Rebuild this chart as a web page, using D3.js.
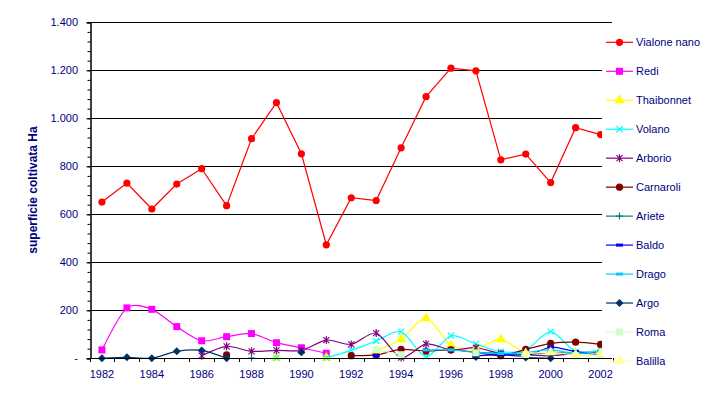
<!DOCTYPE html>
<html>
<head>
<meta charset="utf-8">
<script src="https://cdn.jsdelivr.net/npm/d3@7"></script>
<style>
  body { margin: 0; background: #fff; }
  svg { display: block; font-family: "Liberation Sans", Arial, sans-serif; }
</style>
</head>
<body>
<div class="render"></div>
<script>
// years on the category axis
var years = [1982, 1983, 1984, 1985, 1986, 1987, 1988, 1989, 1990, 1991, 1992,
             1993, 1994, 1995, 1996, 1997, 1998, 1999, 2000, 2001, 2002];
var yearLabels = [1982, 1984, 1986, 1988, 1990, 1992, 1994, 1996, 1998, 2000, 2002];
var yTicks = [0, 200, 400, 600, 800, 1000, 1200, 1400];

// hectares per variety (null = no value that year)
var vialoneNano = [651, 730, 622, 726, 790, 636, 915, 1065, 852, 473, 669, 657, 877, 1090, 1209, 1198, 827, 851, 732, 961, 932];
var redi        = [35, 210, 204, 132, 73, 90, 103, 65, 44, 21, null, null, null, null, null, null, null, null, null, null, null];
var thaibonnet  = [null, null, null, null, null, null, null, 2, null, 2, null, 30, 79, 167, 55, 42, 79, 21, 28, 22, 32];
var volano      = [null, null, null, null, null, null, null, 2, null, 2, 33, 72, 111, 7, 94, 60, 28, 35, 111, 28, 35];
var arborio     = [null, null, null, null, 11, 50, 29, 33, 33, 76, 58, 105, 3, 60, 35, 44, 20, 15, 10, 20, 15];
var carnaroli   = [null, null, null, null, null, 14, null, null, null, null, 11, 14, 37, 30, 35, 25, 11, 37, 62, 67, 58];
var ariete      = [null, null, null, null, null, null, 1, null, null, null, null, null, null, null, null, 25, 20, 15, 25, 20, 25];
var baldo       = [null, null, null, null, null, null, null, null, null, null, null, 11, null, null, null, 10, 15, 10, 46, 28, 22];
var drago       = [null, null, null, null, null, null, null, null, null, null, null, null, null, 35, 35, 25, 20, 25, 35, 20, 30];
var argo        = [0, 4, 0, 29, 33, 0, null, null, 25, null, null, null, null, null, null, 5, null, 3, 0, null, null];
var roma        = [null, null, null, null, null, null, null, null, null, null, null, 35, 15, null, null, 23, null, 14, null, 10, 10];
var balilla     = [null, null, null, null, null, null, null, null, null, null, null, null, null, null, null, null, null, 20, 25, 15, 20];

var series = [
    {name: 'Vialone nano', values: vialoneNano, color: '#FF0000', marker: 'circle', smooth: false},
    {name: 'Redi',         values: redi,        color: '#FF00FF', marker: 'square', smooth: true},
    {name: 'Thaibonnet',   values: thaibonnet,  color: '#FFFF00', marker: 'triangle', smooth: true},
    {name: 'Volano',       values: volano,      color: '#00FFFF', marker: 'x', smooth: true},
    {name: 'Arborio',      values: arborio,     color: '#800080', marker: 'star', smooth: true},
    {name: 'Carnaroli',    values: carnaroli,   color: '#800000', marker: 'circle', smooth: true},
    {name: 'Ariete',       values: ariete,      color: '#008080', marker: 'plus', smooth: true},
    {name: 'Baldo',        values: baldo,       color: '#0000FF', marker: 'dash', smooth: true},
    {name: 'Drago',        values: drago,       color: '#00CCFF', marker: 'dash', smooth: true},
    {name: 'Argo',         values: argo,        color: '#003366', marker: 'diamond', smooth: true},
    {name: 'Roma',         values: roma,        color: '#CCFFCC', marker: 'square', smooth: true},
    {name: 'Balilla',      values: balilla,     color: '#FFFF99', marker: 'triangle', smooth: true}
];

var width = 706, height = 394;
var navy = '#000080';
var numFmt = d3.formatLocale({decimal: ',', thousands: '.', grouping: [3], currency: ['', '']}).format(',');

var svg = d3.select('.render').append('svg')
    .attr('width', width).attr('height', height);

var x = d3.scaleBand().domain(years).range([89.5, 613]);
var y = d3.scaleLinear().domain([0, 1400]).range([358.3, 22.3]);
var cx = function(yr) { return x(yr) + x.bandwidth() / 2; };

// gridlines
svg.append('g').selectAll('line')
    .data(yTicks.filter(function(d) { return d > 0; }))
    .enter().append('line')
    .attr('x1', 90).attr('x2', 612)
    .attr('y1', function(d) { return Math.round(y(d)) + 0.5; })
    .attr('y2', function(d) { return Math.round(y(d)) + 0.5; })
    .attr('stroke', '#000').attr('stroke-width', 1);

// lines
series.forEach(function(s) {
    var pts = years.map(function(yr, i) { return {year: yr, v: s.values[i]}; });
    var line = d3.line()
        .defined(function(d) { return d.v != null; })
        .x(function(d) { return cx(d.year); })
        .y(function(d) { return y(d.v); })
        .curve(s.smooth ? d3.curveCardinal.tension(0.2) : d3.curveLinear);
    svg.append('path')
        .datum(pts)
        .attr('d', line)
        .attr('fill', 'none')
        .attr('stroke', s.color)
        .attr('stroke-width', 1.2);
});

function drawMarker(g, kind, color) {
    if (kind == 'circle') {
        g.append('circle').attr('r', 3.6).attr('fill', color);
    } else if (kind == 'square') {
        g.append('rect').attr('x', -3.5).attr('y', -3.5).attr('width', 7).attr('height', 7).attr('fill', color);
    } else if (kind == 'triangle') {
        g.append('path').attr('d', d3.symbol().type(d3.symbolTriangle).size(45)).attr('fill', color);
    } else if (kind == 'diamond') {
        g.append('path').attr('d', 'M0,-4L4,0L0,4L-4,0Z').attr('fill', color);
    } else if (kind == 'x') {
        g.append('path').attr('d', 'M-3,-3L3,3M-3,3L3,-3').attr('stroke', color).attr('stroke-width', 1.2);
    } else if (kind == 'star') {
        g.append('path').attr('d', 'M-3,-3L3,3M-3,3L3,-3M0,-4L0,4').attr('stroke', color).attr('stroke-width', 1.2);
    } else if (kind == 'plus') {
        g.append('path').attr('d', 'M-3.5,0L3.5,0M0,-3.5L0,3.5').attr('stroke', color).attr('stroke-width', 1.2);
    } else if (kind == 'dash') {
        g.append('rect').attr('x', -3.5).attr('y', -1.5).attr('width', 7).attr('height', 3).attr('fill', color);
    }
}

// markers
series.forEach(function(s) {
    years.forEach(function(yr, i) {
        var v = s.values[i];
        if (v == null) return;
        var g = svg.append('g').attr('transform', 'translate(' + cx(yr) + ',' + y(v) + ')');
        drawMarker(g, s.marker, s.color);
    });
});

// legend background hides what runs under it
svg.append('rect')
    .attr('x', 602).attr('y', 28).attr('width', 104).attr('height', 328)
    .attr('fill', '#fff');

// y axis
var yAxis = d3.axisLeft(y)
    .tickValues(yTicks)
    .tickSize(4)
    .tickPadding(8.5)
    .tickFormat(function(d) { return d == 0 ? '-' : numFmt(d); });
var gy = svg.append('g').attr('transform', 'translate(90.5,0)').call(yAxis);
var gyMinor = svg.append('g').attr('transform', 'translate(90.5,0)')
    .call(d3.axisLeft(y).tickValues(d3.range(0, 1401, 40)).tickSize(3).tickFormat(''));
[gy, gyMinor].forEach(function(g) {
    g.select('.domain').attr('stroke', '#000');
    g.selectAll('.tick line').attr('stroke', '#000');
});
gy.selectAll('text')
    .attr('fill', navy)
    .style('font-size', '11px')
    .style('font-family', '"Liberation Sans", Arial, sans-serif');

// x axis: labels at centres, ticks at band edges
var xAxis = d3.axisBottom(x)
    .tickValues(yearLabels)
    .tickSize(0)
    .tickPadding(12);
var gx = svg.append('g').attr('transform', 'translate(0,358.5)').call(xAxis);
gx.select('.domain').remove();
gx.selectAll('text')
    .attr('fill', navy)
    .style('font-size', '11px')
    .style('font-family', '"Liberation Sans", Arial, sans-serif');

svg.append('line')
    .attr('x1', 90).attr('x2', 612)
    .attr('y1', 358.5).attr('y2', 358.5)
    .attr('stroke', '#000');
svg.append('g').selectAll('line')
    .data(years.concat(['end']))
    .enter().append('line')
    .attr('x1', function(d) { return Math.round(d == 'end' ? x(2002) + x.bandwidth() : x(d)) + 0.5; })
    .attr('x2', function(d) { return Math.round(d == 'end' ? x(2002) + x.bandwidth() : x(d)) + 0.5; })
    .attr('y1', 358).attr('y2', 362)
    .attr('stroke', '#000');

// y title
svg.append('text')
    .attr('transform', 'translate(37,190) rotate(-90)')
    .attr('text-anchor', 'middle')
    .attr('fill', navy)
    .style('font-size', '12px')
    .style('font-weight', 'bold')
    .text('superficie coltivata Ha');

// legend entries
var legend = svg.append('g').selectAll('g')
    .data(series)
    .enter().append('g')
    .attr('transform', function(d, i) { return 'translate(0,' + (42.3 + i * 28.97) + ')'; });
legend.append('line')
    .attr('x1', 606).attr('x2', 633)
    .attr('stroke', function(d) { return d.color; })
    .attr('stroke-width', 1.2);
legend.each(function(d) {
    var g = d3.select(this).append('g').attr('transform', 'translate(619.5,0)');
    drawMarker(g, d.marker, d.color);
});
legend.append('text')
    .attr('x', 636).attr('y', 4)
    .attr('fill', navy)
    .style('font-size', '11px')
    .text(function(d) { return d.name; });
</script>
</body>
</html>
